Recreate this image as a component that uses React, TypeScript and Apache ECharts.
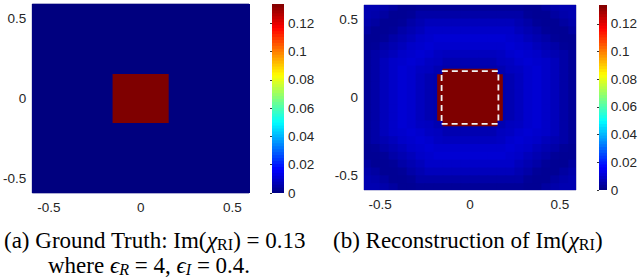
import React, { useEffect, useRef } from "react";
import * as echarts from "echarts";

// ---- axes / colour scale ----
const AXIS_TICKS = [-0.5, 0, 0.5];
const AXIS_MIN = -0.59;
const AXIS_MAX = 0.59;
const CBAR_MAX = 0.1336;
const CBAR_TICKS = [0, 0.02, 0.04, 0.06, 0.08, 0.1, 0.12];
const CBAR_LEVELS = 64;
const JET = ["#00007F", "#0000FF", "#007FFF", "#00FFFF", "#7FFF7F", "#FFFF00", "#FF7F00", "#FF0000", "#7F0000"];

// ---- (a) ground truth: background value and the square [x0, y0, x1, y1] ----
const TRUTH_BACKGROUND = 0;
const TRUTH_SQUARE = [-0.15, -0.15, 0.15, 0.15];
const TRUTH_VALUE = 0.1336;

// ---- (b) reconstruction, 24 x 24 cells of 0.05, top row first, values in 1e-4 ----
const CELL = 0.05;
const ORIGIN = -0.6;
const S = 1336;
const RECON = [
  [65, 65, 58, 45, 28, 28, 33, 33, 33, 33, 33, 33, 33, 33, 33, 33, 33, 33, 28, 28, 45, 58, 65, 65],
  [65, 58, 45, 28, 28, 33, 52, 52, 52, 52, 52, 52, 52, 52, 52, 52, 52, 52, 33, 28, 28, 45, 58, 65],
  [58, 45, 28, 28, 33, 52, 65, 78, 78, 78, 78, 78, 78, 78, 78, 78, 78, 65, 52, 33, 28, 28, 45, 58],
  [45, 28, 28, 33, 52, 65, 78, 95, 95, 95, 95, 95, 95, 95, 95, 95, 95, 78, 65, 52, 33, 28, 28, 45],
  [28, 28, 33, 52, 65, 78, 95, 102, 110, 110, 110, 110, 110, 110, 110, 110, 102, 95, 78, 65, 52, 33, 28, 28],
  [28, 33, 52, 65, 78, 95, 102, 110, 102, 102, 102, 102, 102, 102, 102, 102, 110, 102, 95, 78, 65, 52, 33, 28],
  [33, 52, 65, 78, 95, 102, 110, 102, 88, 82, 82, 82, 82, 82, 82, 88, 102, 110, 102, 95, 78, 65, 52, 33],
  [33, 52, 78, 95, 102, 110, 102, 88, 82, 65, 65, 65, 65, 65, 65, 82, 88, 102, 110, 102, 95, 78, 52, 33],
  [33, 52, 78, 95, 110, 102, 88, 82, 65, 58, 58, 58, 58, 58, 58, 65, 82, 88, 102, 110, 95, 78, 52, 33],
  [33, 52, 78, 95, 110, 102, 82, 65, 58, S, S, S, S, S, S, 58, 65, 82, 102, 110, 95, 78, 52, 33],
  [33, 52, 78, 95, 110, 102, 82, 65, 58, S, S, S, S, S, S, 58, 65, 82, 102, 110, 95, 78, 52, 33],
  [33, 52, 78, 95, 110, 102, 82, 65, 58, S, S, S, S, S, S, 58, 65, 82, 102, 110, 95, 78, 52, 33],
  [33, 52, 78, 95, 110, 102, 82, 65, 58, S, S, S, S, S, S, 58, 65, 82, 102, 110, 95, 78, 52, 33],
  [33, 52, 78, 95, 110, 102, 82, 65, 58, S, S, S, S, S, S, 58, 65, 82, 102, 110, 95, 78, 52, 33],
  [33, 52, 78, 95, 110, 102, 82, 65, 58, S, S, S, S, S, S, 58, 65, 82, 102, 110, 95, 78, 52, 33],
  [33, 52, 78, 95, 110, 102, 88, 82, 65, 58, 58, 58, 58, 58, 58, 65, 82, 88, 102, 110, 95, 78, 52, 33],
  [33, 52, 78, 95, 102, 110, 102, 88, 82, 65, 65, 65, 65, 65, 65, 82, 88, 102, 110, 102, 95, 78, 52, 33],
  [33, 52, 65, 78, 95, 102, 110, 102, 88, 82, 82, 82, 82, 82, 82, 88, 102, 110, 102, 95, 78, 65, 52, 33],
  [28, 33, 52, 65, 78, 95, 102, 110, 102, 102, 102, 102, 102, 102, 102, 102, 110, 102, 95, 78, 65, 52, 33, 28],
  [28, 28, 33, 52, 65, 78, 95, 102, 110, 110, 110, 110, 110, 110, 110, 110, 102, 95, 78, 65, 52, 33, 28, 28],
  [45, 28, 28, 33, 52, 65, 78, 95, 95, 95, 95, 95, 95, 95, 95, 95, 95, 78, 65, 52, 33, 28, 28, 45],
  [58, 45, 28, 28, 33, 52, 65, 78, 78, 78, 78, 78, 78, 78, 78, 78, 78, 65, 52, 33, 28, 28, 45, 58],
  [65, 58, 45, 28, 28, 33, 52, 52, 52, 52, 52, 52, 52, 52, 52, 52, 52, 52, 33, 28, 28, 45, 58, 65],
  [65, 65, 58, 45, 28, 28, 33, 33, 33, 33, 33, 33, 33, 33, 33, 33, 33, 33, 28, 28, 45, 58, 65, 65],
];
// red (saturated) blob of the reconstruction, [x0, y0, x1, y1]
const RECON_RED = [
  [-0.15, -0.18, 0.15, 0.18],
  [-0.18, -0.145, 0.18, 0.145],
];
const RECON_RED_VALUE = 0.1336;
// dashed outline of the true scatterer
const DASH_BOX = [
  [-0.158, -0.168],
  [0.158, -0.168],
  [0.158, 0.168],
  [-0.158, 0.168],
  [-0.158, -0.168],
];

const FONT = "Liberation Sans";
const SERIF = "Liberation Serif";
const TXT = "#262626";
const CAP = 23;

function renderRect(_params: any, api: any) {
  const p0 = api.coord([api.value(0), api.value(3)]);
  const p1 = api.coord([api.value(2), api.value(1)]);
  const c = api.visual("color");
  return {
    type: "rect",
    shape: { x: p0[0] - 0.5, y: p0[1] - 0.5, width: p1[0] - p0[0] + 1, height: p1[1] - p0[1] + 1 },
    style: { fill: c },
  };
}

function plotX(gridIndex: number) {
  return {
    type: "value",
    gridIndex,
    min: AXIS_MIN,
    max: AXIS_MAX,
    splitLine: { show: false },
    axisLine: { show: false },
    axisTick: { show: true, inside: true, length: 3, customValues: AXIS_TICKS, lineStyle: { color: "#333" } },
    axisLabel: { customValues: AXIS_TICKS, fontFamily: FONT, fontSize: 13.5, color: TXT, margin: 7 },
  };
}
function plotY(gridIndex: number) {
  return {
    type: "value",
    gridIndex,
    min: AXIS_MIN,
    max: AXIS_MAX,
    splitLine: { show: false },
    axisLine: { show: false },
    axisTick: { show: true, inside: true, length: 3, customValues: AXIS_TICKS, lineStyle: { color: "#333" } },
    axisLabel: { customValues: AXIS_TICKS, fontFamily: FONT, fontSize: 13.5, color: TXT, margin: 6 },
  };
}
function cbarX(gridIndex: number) {
  return { type: "value", gridIndex, min: 0, max: 1, show: false };
}
function cbarY(gridIndex: number) {
  return {
    type: "value",
    gridIndex,
    min: 0,
    max: CBAR_MAX,
    position: "right",
    splitLine: { show: false },
    axisLine: { show: false },
    axisTick: { show: true, inside: true, length: 2, customValues: CBAR_TICKS, lineStyle: { color: "#333" } },
    axisLabel: { customValues: CBAR_TICKS, fontFamily: FONT, fontSize: 13.5, color: TXT, margin: 4 },
  };
}

export default function App() {
  const ref = useRef<HTMLDivElement>(null);
  useEffect(() => {
    document.body.style.margin = "0";
    const chart = echarts.init(ref.current!, undefined, { renderer: "svg" });

    const truthData = [
      [ORIGIN, ORIGIN, -ORIGIN, -ORIGIN, TRUTH_BACKGROUND],
      [TRUTH_SQUARE[0], TRUTH_SQUARE[1], TRUTH_SQUARE[2], TRUTH_SQUARE[3], TRUTH_VALUE],
    ];
    const reconData: number[][] = [];
    RECON.forEach((row, r) => {
      row.forEach((v, c) => {
        const x0 = ORIGIN + c * CELL;
        const y1 = -ORIGIN - r * CELL;
        reconData.push([x0, y1 - CELL, x0 + CELL, y1, v * 1e-4]);
      });
    });
    const redData = RECON_RED.map((b) => [b[0], b[1], b[2], b[3], RECON_RED_VALUE]);
    const cbarData: number[][] = [];
    for (let k = 0; k < CBAR_LEVELS; k++) {
      cbarData.push([0, (k / CBAR_LEVELS) * CBAR_MAX, 1, ((k + 1) / CBAR_LEVELS) * CBAR_MAX, ((k + 0.5) / CBAR_LEVELS) * CBAR_MAX]);
    }

    const custom = (xIdx: number, data: number[][]) => ({
      type: "custom",
      xAxisIndex: xIdx,
      yAxisIndex: xIdx,
      renderItem: renderRect,
      clip: true,
      encode: { x: [0, 2], y: [1, 3] },
      data,
      silent: true,
    });

    const richBase = {
      r: { fontFamily: SERIF, fontSize: CAP, lineHeight: CAP, color: "#111" },
      i: { fontFamily: SERIF, fontSize: CAP, lineHeight: CAP, fontStyle: "italic", color: "#111" },
      sub: { fontFamily: SERIF, fontSize: CAP * 0.7, lineHeight: CAP * 0.6, padding: [CAP * 0.36, 0, 0, 0], color: "#111" },
      subi: { fontFamily: SERIF, fontSize: CAP * 0.7, lineHeight: CAP * 0.6, fontStyle: "italic", padding: [CAP * 0.36, 0, 0, 0], color: "#111" },
    };

    chart.setOption({
      animation: false,
      grid: [
        { left: 32, top: 4, width: 217, height: 189, show: true, borderColor: "#5a5aa6", borderWidth: 1, backgroundColor: "transparent" },
        { left: 272, top: 4, width: 12, height: 189 },
        { left: 364, top: 5, width: 212, height: 185, show: true, borderColor: "#8c8cc8", borderWidth: 1, backgroundColor: "transparent" },
        { left: 599, top: 5, width: 12, height: 185 },
      ],
      xAxis: [plotX(0), cbarX(1), plotX(2), cbarX(3)],
      yAxis: [plotY(0), cbarY(1), plotY(2), cbarY(3)],
      visualMap: {
        type: "continuous",
        show: false,
        min: 0,
        max: CBAR_MAX,
        dimension: 4,
        seriesIndex: [0, 1, 2, 3, 5],
        inRange: { color: JET },
      },
      series: [
        custom(0, truthData),
        custom(1, cbarData),
        custom(2, reconData),
        custom(2, redData),
        {
          type: "line",
          xAxisIndex: 2,
          yAxisIndex: 2,
          data: DASH_BOX,
          symbol: "none",
          silent: true,
          lineStyle: { color: "#f2f2f2", width: 1.8, type: [6, 4] },
          z: 5,
        },
        custom(3, cbarData),
      ],
      graphic: [
        {
          type: "text",
          left: 4,
          top: 228,
          style: {
            text: "{r|(a) Ground Truth: Im(}{i|χ}{sub|RI}{r|) = 0.13}",
            rich: richBase,
          },
        },
        {
          type: "text",
          left: 48,
          top: 253,
          style: {
            text: "{r|where }{i|ϵ}{subi|R}{r| = 4, }{i|ϵ}{subi|I}{r| = 0.4.}",
            rich: richBase,
          },
        },
        {
          type: "text",
          left: 333,
          top: 228,
          style: {
            text: "{r|(b) Reconstruction of Im(}{i|χ}{sub|RI}{r|)}",
            rich: richBase,
          },
        },
      ],
    });
    return () => chart.dispose();
  }, []);
  return <div ref={ref} style={{ width: 640, height: 280 }} />;
}
